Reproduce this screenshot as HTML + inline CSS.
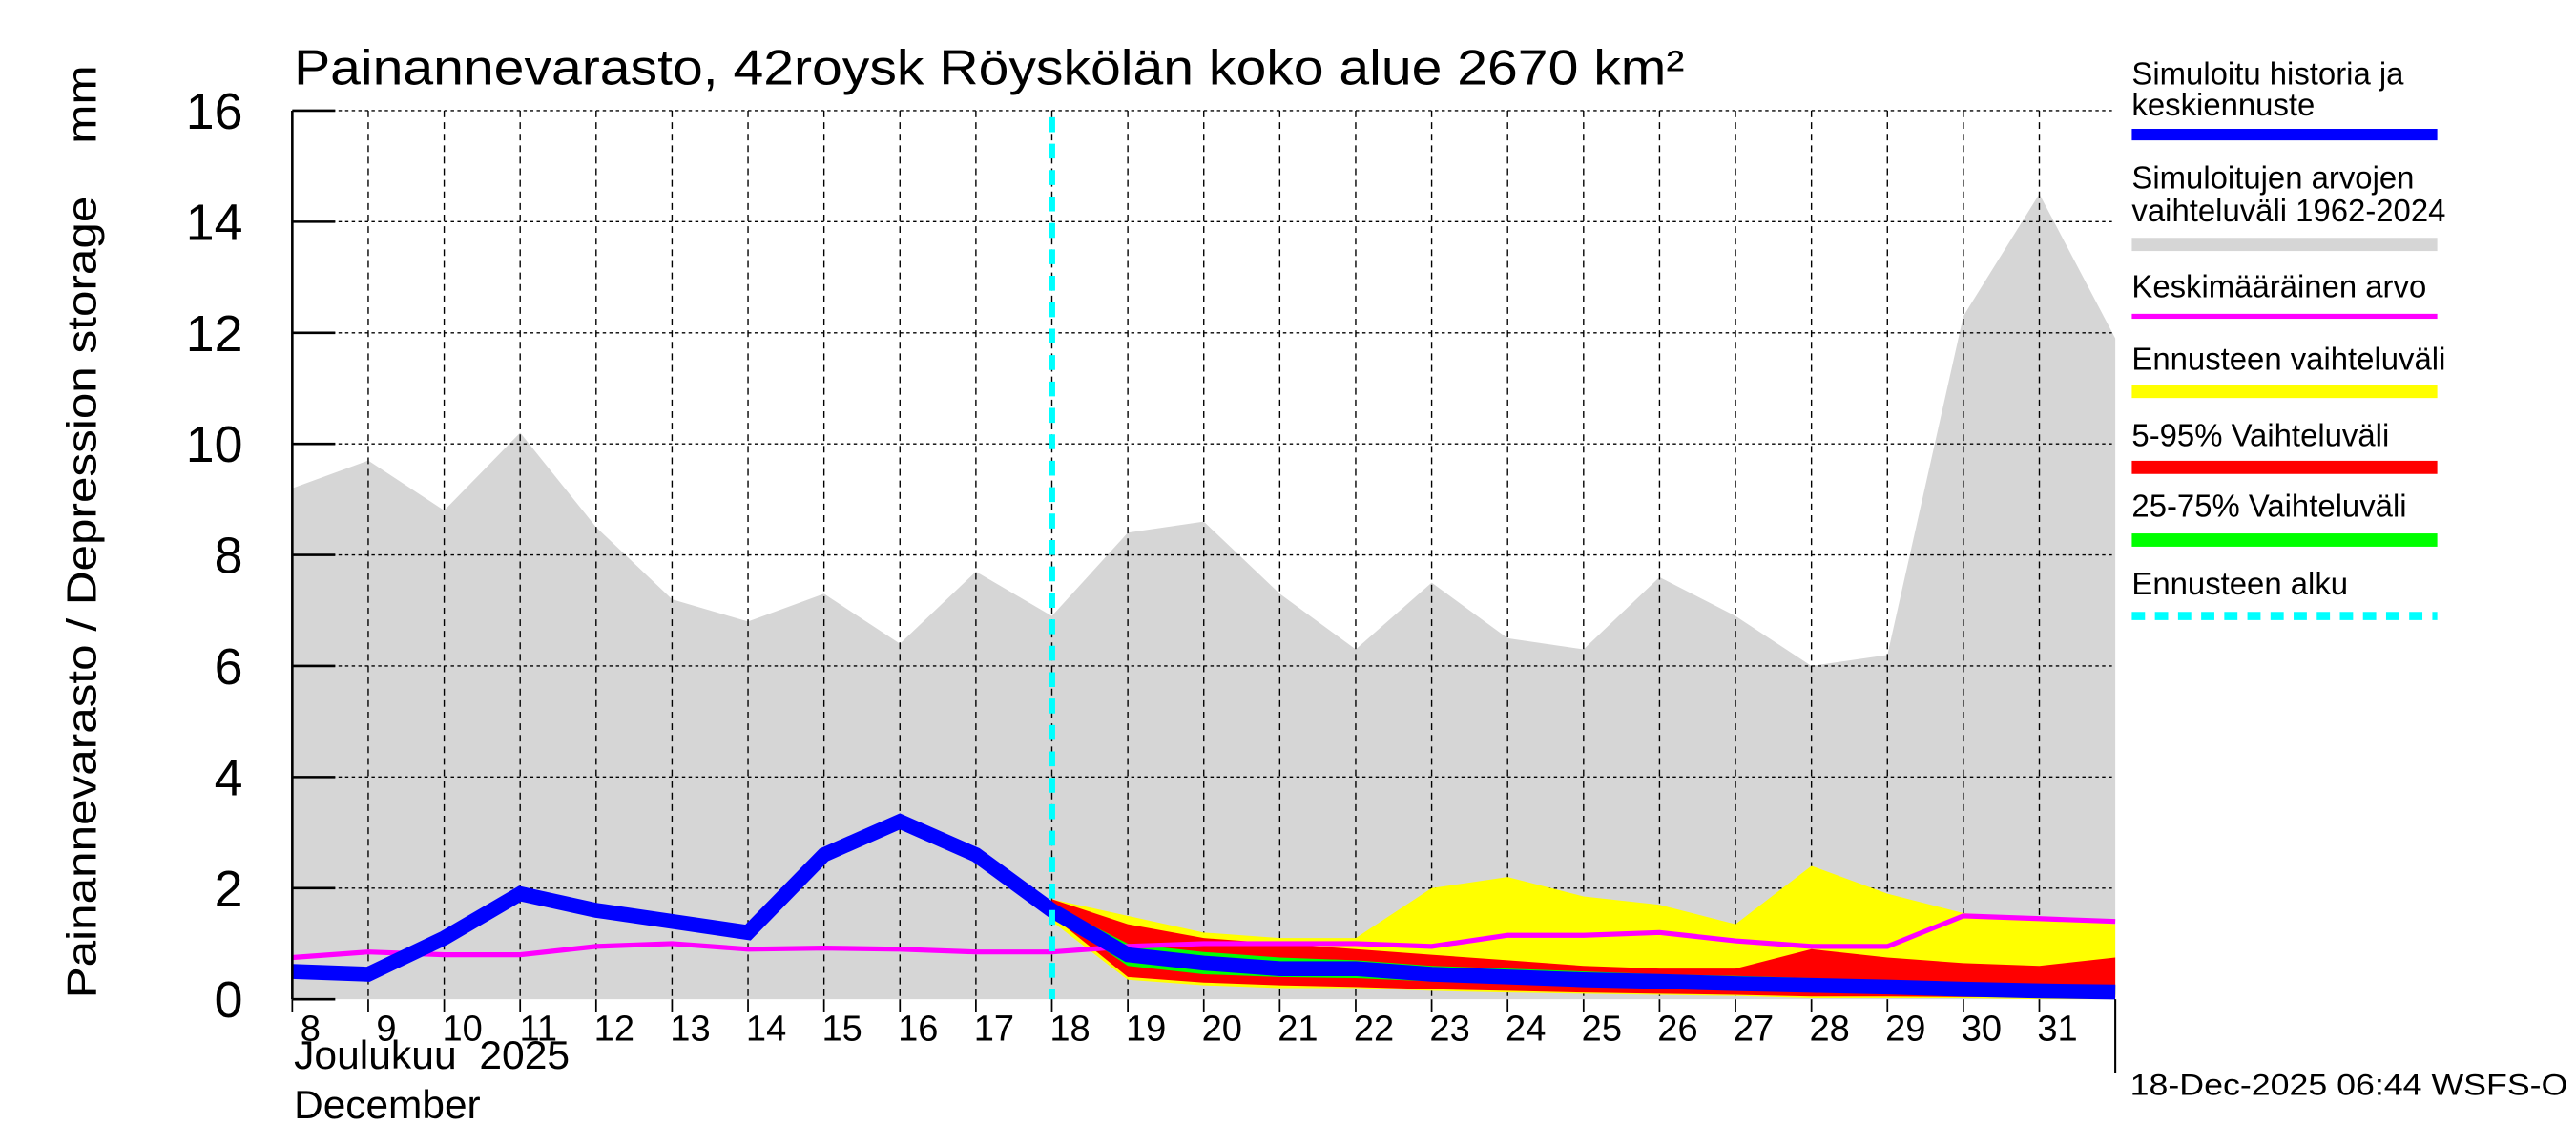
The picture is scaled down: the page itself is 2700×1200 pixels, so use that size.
<!DOCTYPE html>
<html><head><meta charset="utf-8"><style>
html,body{margin:0;padding:0;background:#fff;}
svg{display:block;font-family:"Liberation Sans",sans-serif;}
</style></head><body>
<svg id="chart" width="2700" height="1200" viewBox="0 0 1560 693.3" preserveAspectRatio="none" xmlns="http://www.w3.org/2000/svg">
<g id="plot"></g>
<text x="178" y="51" font-size="30" textLength="842" lengthAdjust="spacingAndGlyphs">Painannevarasto, 42roysk Röyskölän koko alue 2670 km²</text>
<text transform="translate(58,322) rotate(-90)" text-anchor="middle" font-size="25" textLength="565" lengthAdjust="spacingAndGlyphs">Painannevarasto / Depression storage&#160;&#160;&#160;&#160;mm</text>
<text x="178" y="647" font-size="24" textLength="167" lengthAdjust="spacingAndGlyphs">Joulukuu&#160; 2025</text>
<text x="178" y="677" font-size="24" textLength="113" lengthAdjust="spacingAndGlyphs">December</text>
<text x="1290" y="663" font-size="18" textLength="265" lengthAdjust="spacingAndGlyphs">18-Dec-2025 06:44 WSFS-O</text>
<g id="legend" font-size="19">
<text x="1291" y="51">Simuloitu historia ja</text>
<text x="1291" y="70">keskiennuste</text>
<rect x="1291" y="78" width="185" height="7" fill="#0000ff"/>
<text x="1291" y="114">Simuloitujen arvojen</text>
<text x="1291" y="134">vaihteluväli 1962-2024</text>
<rect x="1291" y="144" width="185" height="8" fill="#d6d6d6"/>
<text x="1291" y="180">Keskimääräinen arvo</text>
<rect x="1291" y="190" width="185" height="3" fill="#ff00ff"/>
<text x="1291" y="224">Ennusteen vaihteluväli</text>
<rect x="1291" y="233" width="185" height="8" fill="#ffff00"/>
<text x="1291" y="270">5-95% Vaihteluväli</text>
<rect x="1291" y="279" width="185" height="8" fill="#ff0000"/>
<text x="1291" y="313">25-75% Vaihteluväli</text>
<rect x="1291" y="323" width="185" height="8" fill="#00ff00"/>
<text x="1291" y="360">Ennusteen alku</text>
<line x1="1291" y1="373" x2="1476" y2="373" stroke="#00ffff" stroke-width="5" stroke-dasharray="8,6"/>
</g>
</svg>
<script>
const days=[8,9,10,11,12,13,14,15,16,17,18,19,20,21,22,23,24,25,26,27,28,29,30,31,32];
const rangeMax=[9.2,9.7,8.8,10.2,8.5,7.2,6.8,7.3,6.4,7.7,6.9,8.4,8.6,7.3,6.3,7.5,6.5,6.3,7.6,6.9,6.0,6.2,12.3,14.5,11.9];
const history=[0.5,0.45,1.1,1.9,1.6,1.4,1.2,2.6,3.2,2.6,1.6,0.8,0.65,0.55,0.55,0.45,0.4,0.35,0.32,0.28,0.25,0.22,0.18,0.15,0.13];
const meanVals=[0.75,0.85,0.8,0.8,0.95,1.0,0.9,0.92,0.9,0.85,0.85,0.95,1.0,1.0,1.0,0.95,1.15,1.15,1.2,1.05,0.95,0.95,1.5,1.45,1.4];
const fcDays=[18,19,20,21,22,23,24,25,26,27,28,29,30,31,32];
const yelHi=[1.8,1.5,1.2,1.1,1.1,2.0,2.2,1.85,1.7,1.35,2.4,1.9,1.55,1.45,1.35];
const yelLo=[1.4,0.35,0.25,0.2,0.2,0.15,0.12,0.1,0.08,0.06,0.02,0.02,0.02,0.0,0.0];
const redHi=[1.8,1.35,1.1,1.0,0.9,0.8,0.7,0.6,0.55,0.55,0.9,0.75,0.65,0.6,0.75];
const redLo=[1.5,0.4,0.3,0.25,0.22,0.18,0.15,0.12,0.1,0.08,0.05,0.05,0.04,0.04,0.03];
const grnHi=[1.7,1.0,0.85,0.75,0.7,0.6,0.55,0.5,0.45,0.42,0.38,0.34,0.3,0.27,0.25];
const grnLo=[1.55,0.6,0.45,0.4,0.38,0.32,0.28,0.25,0.22,0.2,0.18,0.15,0.12,0.1,0.08];
const yTicks=[0,2,4,6,8,10,12,14,16];
const xLabels=[8,9,10,11,12,13,14,15,16,17,18,19,20,21,22,23,24,25,26,27,28,29,30,31];
const forecastStart=18;

const X0=177,X1=1281,Y0=605,Y1=67;
const x=d=>X0+(d-8)*(X1-X0)/24;
const y=v=>Y0-v*(Y0-Y1)/16;
const NS='http://www.w3.org/2000/svg';
const g=document.getElementById('plot');
function mk(tag,attrs){const e=document.createElementNS(NS,tag);for(const k in attrs)e.setAttribute(k,attrs[k]);g.appendChild(e);return e;}
function band(xs,hi,lo,fill,name){
  let p=xs.map((d,i)=>x(d)+','+y(hi[i])).concat(xs.map((d,i)=>x(d)+','+y(lo[i])).reverse());
  const e=mk('polygon',{points:p.join(' '),fill:fill});
  
  
}
function line(xs,vals,stroke,w,name){
  const e=mk('polyline',{points:xs.map((d,i)=>x(d)+','+y(vals[i])).join(' '),fill:'none',stroke:stroke,'stroke-width':w,'stroke-linejoin':'miter'});
  
  
}
band(days,rangeMax,days.map(()=>0),'#d6d6d6','historical-range-area');
yTicks.forEach(v=>{if(v===0)return;
  const e=mk('line',{x1:X0,x2:X1,y1:y(v),y2:y(v),stroke:'#000','stroke-width':0.8,'stroke-dasharray':'2,2'});
  
  
});
for(let d=9;d<=31;d++){
  const e=mk('line',{x1:x(d),x2:x(d),y1:Y1,y2:Y0,stroke:'#000','stroke-width':0.8,'stroke-dasharray':'4,3'});
  
  
}
band(fcDays,yelHi,yelLo,'#ffff00','forecast-range-band');
band(fcDays,redHi,redLo,'#ff0000','band-5-95');
band(fcDays,grnHi,grnLo,'#00ff00','band-25-75');
line(days,meanVals,'#ff00ff',3,'mean-line');
line(days,history,'#0000ff',9,'history-forecast-line');
const fl=mk('line',{x1:x(forecastStart),x2:x(forecastStart),y1:Y1+4,y2:Y0,stroke:'#00ffff','stroke-width':4,'stroke-dasharray':'9,7'});


const ax=mk('line',{x1:X0,x2:X0,y1:Y1,y2:Y0,stroke:'#000','stroke-width':1.5});


const rx=mk('line',{x1:X1,x2:X1,y1:Y0,y2:650,stroke:'#000','stroke-width':1.2});


yTicks.forEach(v=>{
  const t=mk('line',{x1:X0,x2:X0+26,y1:y(v),y2:y(v),stroke:'#000','stroke-width':1.5});
  
  
  const l=mk('text',{x:147,y:y(v)+11,'text-anchor':'end','font-size':31});
  l.textContent=v;
  
  
});
xLabels.forEach(d=>{
  const t=mk('line',{x1:x(d),x2:x(d),y1:Y0,y2:Y0+8,stroke:'#000','stroke-width':1});
  
  
  const l=mk('text',{x:x(d)+11,y:630,'text-anchor':'middle','font-size':22});
  l.textContent=d;
  
  
});
</script>
</body></html>
